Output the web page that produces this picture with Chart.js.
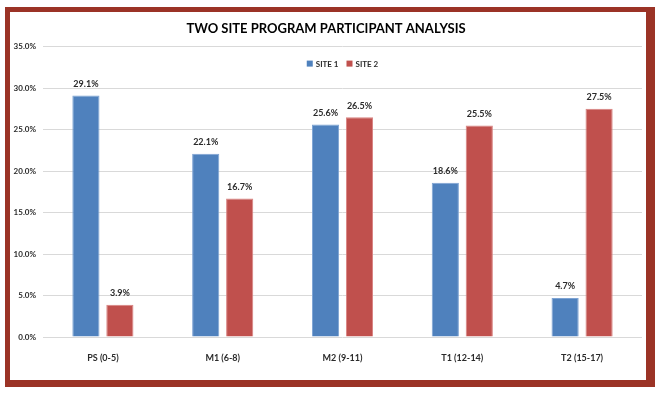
<!DOCTYPE html>
<html>
<head>
<meta charset="utf-8">
<script src="https://cdn.jsdelivr.net/npm/chart.js@4.4.1/dist/chart.umd.min.js"></script>
<style>
  body { margin: 0; background: #ffffff; }
  #moldura {
    position: absolute;
    left: 5px;
    top: 7px;
    width: 636px;
    height: 368px;
    border-style: solid;
    border-color: #9b3326;
    border-width: 5px 9px 7px 5px;
    background: #ffffff;
  }
  #grafico { display: block; }
</style>
</head>
<body>
<div id="moldura">
  <canvas id="grafico" width="636" height="368"></canvas>
</div>
<script>
// dados do grafico
const categorias = ['PS (0-5)', 'M1 (6-8)', 'M2 (9-11)', 'T1 (12-14)', 'T2 (15-17)'];
const site1 = [29.1, 22.1, 25.6, 18.6, 4.7];
const site2 = [3.9, 16.7, 26.5, 25.5, 27.5];
const ticksY = [0, 5, 10, 15, 20, 25, 30, 35];

const corTexto = '#2b2b2b';

// rotulos em cima das barras
const rotulosBarras = {
  id: 'rotulosBarras',
  afterDatasetsDraw(chart) {
    const ctx = chart.ctx;
    ctx.save();
    ctx.font = 'bold 9px Lato';
    ctx.fillStyle = corTexto;
    ctx.textAlign = 'center';
    ctx.textBaseline = 'bottom';
    chart.data.datasets.forEach(function (ds, i) {
      chart.getDatasetMeta(i).data.forEach(function (barra, j) {
        ctx.fillText(ds.data[j].toFixed(1) + '%', barra.x, barra.y - 7);
      });
    });
    ctx.restore();
  }
};

// legenda dentro da area do grafico, centralizada
const legendaInterna = {
  id: 'legendaInterna',
  afterDraw(chart) {
    const ctx = chart.ctx;
    const area = chart.chartArea;
    ctx.save();
    ctx.font = 'bold 8px Lato';
    ctx.textBaseline = 'middle';
    ctx.textAlign = 'left';
    const itens = chart.data.datasets.map(function (ds) {
      return { texto: ds.label, cor: ds.backgroundColor, largura: 6 + 3 + ctx.measureText(ds.label).width };
    });
    let total = 0;
    itens.forEach(function (it) { total += it.largura; });
    total += 8 * (itens.length - 1);
    let x = (area.left + area.right) / 2 - total / 2;
    const y = area.top + 17;
    itens.forEach(function (it) {
      ctx.fillStyle = it.cor;
      ctx.fillRect(x, y - 3, 6, 6);
      ctx.fillStyle = corTexto;
      ctx.fillText(it.texto, x + 9, y + 0.5);
      x += it.largura + 8;
    });
    ctx.restore();
  }
};

const grafico = document.getElementById('grafico');

let graficoSites = new Chart(grafico, {
  type: 'bar',
  data: {
    labels: categorias,
    datasets: [
      {
        label: 'SITE 1',
        data: site1,
        backgroundColor: '#4f81bd',
        borderColor: '#7da3d3',
        borderWidth: 1,
        categoryPercentage: 0.567,
        barPercentage: 0.8
      },
      {
        label: 'SITE 2',
        data: site2,
        backgroundColor: '#c0504d',
        borderColor: '#d98280',
        borderWidth: 1,
        categoryPercentage: 0.567,
        barPercentage: 0.8
      }
    ]
  },
  options: {
    responsive: false,
    animation: false,
    layout: {
      padding: { left: 0, right: 4, top: 3, bottom: 0 }
    },
    plugins: {
      title: {
        display: true,
        text: 'TWO SITE PROGRAM PARTICIPANT ANALYSIS',
        color: '#000000',
        font: { family: 'Lato', size: 13, weight: 'bold' },
        padding: { top: 6, bottom: 10 }
      },
      legend: { display: false },
      tooltip: { enabled: false }
    },
    scales: {
      x: {
        grid: { display: false },
        border: { display: false },
        ticks: {
          color: corTexto,
          padding: 8,
          font: { family: 'Lato', size: 9, weight: 'bold' }
        },
        afterFit: function (scale) {
          scale.height = 43;
        }
      },
      y: {
        min: 0,
        max: 35,
        afterBuildTicks: function (scale) {
          scale.ticks = ticksY.map(function (v) { return { value: v }; });
        },
        grid: { color: '#d9d9d9', lineWidth: 1, drawTicks: false },
        border: { display: false },
        ticks: {
          color: corTexto,
          padding: 7,
          font: { family: 'Lato', size: 8, weight: 'bold' },
          callback: function (v) { return v.toFixed(1) + '%'; }
        },
        afterFit: function (scale) {
          scale.width = 33;
        }
      }
    }
  },
  plugins: [rotulosBarras, legendaInterna]
});
</script>
</body>
</html>
